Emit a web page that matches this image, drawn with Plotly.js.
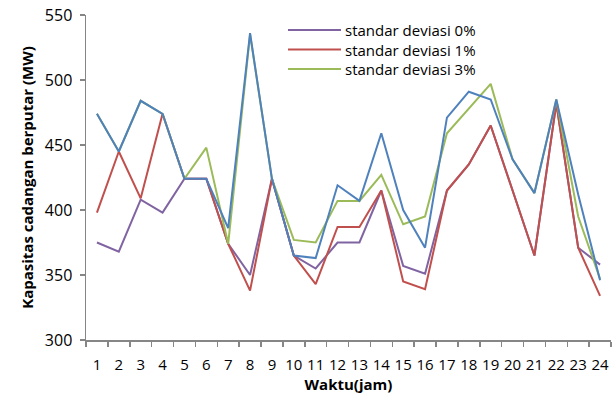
<!DOCTYPE html>
<html>
<head>
<meta charset="utf-8">
<script src="https://cdn.plot.ly/plotly-3.0.1.min.js"></script>
<style>
  html, body { margin: 0; padding: 0; background: #fff; }
  #chart { width: 614px; height: 396px; }
</style>
</head>
<body>
<div id="chart"></div>
<script>
// Hours of the day (category axis)
const jam = ['1','2','3','4','5','6','7','8','9','10','11','12','13','14','15','16','17','18','19','20','21','22','23','24'];

// Spinning reserve capacity (MW) per hour for each standard deviation
const dev0 = [375, 368, 408, 398, 424, 424, 374, 350, 424, 365, 355, 375, 375, 415, 357, 351, 415, 435, 465, 415, 365, 482, 371, 358];
const dev1 = [398, 445, 409, 474, 424, 424, 374, 338, 424, 365, 343, 387, 387, 415, 345, 339, 415, 435, 465, 415, 365, 482, 371, 334];
const dev3 = [474, 445, 484, 474, 424, 448, 374, 535, 424, 377, 375, 407, 407, 427, 389, 395, 459, 478, 497, 439, 413, 485, 395, 347];
const seri4 = [474, 445, 484, 474, 424, 424, 386, 536, 424, 365, 363, 419, 407, 459, 400, 371, 471, 491, 485, 439, 413, 485, 412, 346];

const seriesNames = ['standar deviasi 0%', 'standar deviasi 1%', 'standar deviasi 3%'];
const colors = ['#8064A2', '#C0504D', '#9BBB59', '#4F81BD'];

const FONT = '"Open Sans", "Noto Sans", sans-serif';

function line(y, name, color, inLegend) {
  return {
    x: jam, y: y, name: name, type: 'scatter', mode: 'lines',
    line: { color: color, width: 2 },
    showlegend: inLegend, hoverinfo: 'x+y+name'
  };
}

const data = [
  line(dev0, seriesNames[0], colors[0], true),
  line(dev1, seriesNames[1], colors[1], true),
  line(dev3, seriesNames[2], colors[2], true),
  line(seri4, 'seri 4', colors[3], false)
];

// Plot area geometry in pixels
const W = 614, H = 396;
const M = { l: 86, r: 3, t: 15, b: 56 };
const pw = W - M.l - M.r, ph = H - M.t - M.b;
const px = x => (x - M.l) / pw;
const py = y => 1 - (y - M.t) / ph;

// Legend drawn as line samples plus labels
const legendRows = [30, 49.5, 69];
const shapes = [], annotations = [];
seriesNames.forEach((name, i) => {
  shapes.push({
    type: 'line', xref: 'paper', yref: 'paper',
    x0: px(288), x1: px(341), y0: py(legendRows[i]), y1: py(legendRows[i]),
    line: { color: colors[i], width: 2 }
  });
  annotations.push({
    xref: 'paper', yref: 'paper', x: px(344), y: py(legendRows[i]),
    xanchor: 'left', yanchor: 'middle', showarrow: false, text: name,
    borderpad: 0,
    font: { family: FONT, size: 15, color: '#000' }
  });
});

const layout = {
  width: W, height: H,
  margin: M,
  paper_bgcolor: '#fff', plot_bgcolor: '#fff',
  showlegend: false,
  font: { family: FONT, size: 15, color: '#000' },
  xaxis: {
    type: 'category', range: [-0.5, 23.5],
    showgrid: false, zeroline: false,
    showline: true, linecolor: '#868686', linewidth: 1.5,
    ticks: 'outside', tickson: 'boundaries', ticklen: 5, tickcolor: '#868686', tickwidth: 1.5,
    tickangle: 0, ticklabelstandoff: 10,
    tickfont: { family: FONT, size: 15, color: '#000' },
    title: { text: '<b>Waktu(jam)</b>', font: { family: FONT, size: 15, color: '#000' }, standoff: 1 }
  },
  yaxis: {
    range: [300, 550], dtick: 50,
    showgrid: false, zeroline: false,
    showline: true, linecolor: '#868686', linewidth: 1.5,
    ticks: 'outside', ticklen: 5, tickcolor: '#868686', tickwidth: 1.5,
    ticklabelstandoff: 4,
    tickfont: { family: FONT, size: 16, color: '#000' },
    title: { text: '<b>Kapasitas cadangan berputar (MW)</b>', font: { family: FONT, size: 15, color: '#000' }, standoff: 7 }
  },
  shapes: shapes,
  annotations: annotations
};

Plotly.newPlot('chart', data, layout, { displayModeBar: false, staticPlot: true });
</script>
</body>
</html>
